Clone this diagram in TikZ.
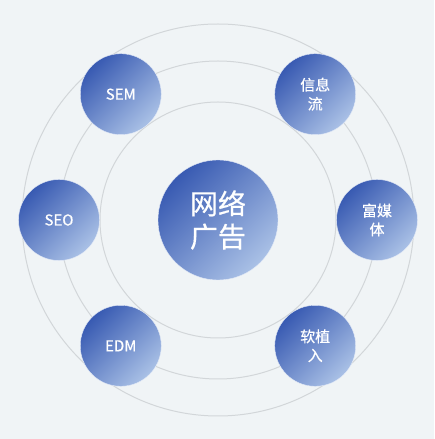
\documentclass[tikz,border=0pt]{standalone}
\usepackage{fontspec}
\setmainfont{Noto Sans CJK SC}[FakeBold=0.5]
\usetikzlibrary{calc}
\begin{document}
\begin{tikzpicture}[x=1pt,y=1pt,
  bg/.style={fill=bgcol},
  ring/.style={draw=ringcol,line width=1pt},
  ball/.style={circle,inner sep=0pt,left color=dark,middle color=mid,right color=light,shading angle=45,text=white,align=center,draw=white!70!light,line width=0.4pt},
  sat/.style={ball,minimum size=81pt,font=\fontsize{15}{19}\selectfont},
  hub/.style={ball,minimum size=120pt,font=\fontsize{28}{33}\selectfont}]
\definecolor{bgcol}{RGB}{240,244,246}
\definecolor{ringcol}{RGB}{210,214,217}
\definecolor{dark}{RGB}{56,90,178}
\definecolor{mid}{RGB}{88,120,194}
\definecolor{light}{RGB}{170,193,230}
\useasboundingbox[bg] (0,0) rectangle (434,439);
\coordinate (c) at (218,219);
\draw[ring] (c) circle[radius=196];
\draw[ring] (c) circle[radius=159];
\draw[ring] (c) circle[radius=118];
\node[hub] (hub) at (c) {网络\\广告};
\node[sat] (sem) at ($(c)+(127.7:159)$) {SEM};
\node[sat] (xxl) at ($(c)+(52.3:159)$) {信息\\流};
\node[sat] (seo) at ($(c)+(180:159)$) {SEO};
\node[sat] (fmt) at ($(c)+(0:159)$) {富媒\\体};
\node[sat] (edm) at ($(c)+(-127.7:159)$) {EDM};
\node[sat] (rzr) at ($(c)+(-52.3:159)$) {软植\\入};
\end{tikzpicture}
\end{document}
